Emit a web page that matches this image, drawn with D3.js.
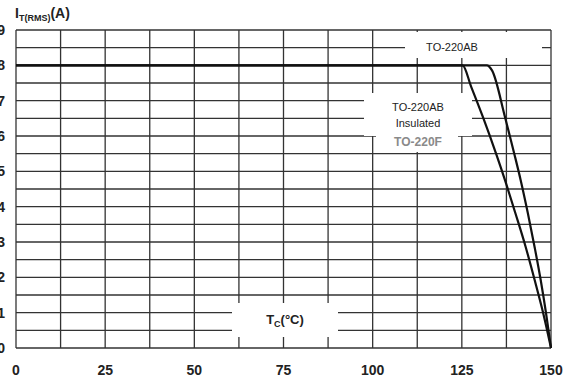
<!DOCTYPE html>
<html>
<head>
<meta charset="utf-8">
<script src="https://cdn.jsdelivr.net/npm/d3@7"></script>
<style>
  body { margin: 0; background: #fff; }
  svg { display: block; font-family: "Liberation Sans", Arial, sans-serif; }
</style>
</head>
<body>
<script>
// case temperature (°C) vs I_T(RMS) (A)
const abTemp = [0, 132, 133.5, 137.1, 139.7, 141.5, 143.5, 145.4, 147.1, 148.6, 150];
const abCurrent = [8, 8, 7.85, 6.54, 5.5, 4.75, 3.82, 2.86, 1.93, 0.99, 0];
const insTemp = [0, 125.2, 127.6, 130.9, 134.6, 137.1, 140, 142.9, 145.4, 147.8, 150];
const insCurrent = [8, 8, 7.4, 6.54, 5.5, 4.75, 3.82, 2.86, 1.93, 0.99, 0];
const xTicks = [0, 25, 50, 75, 100, 125, 150];
const yTicks = [0, 1, 2, 3, 4, 5, 6, 7, 8, 9];

const width = 572, height = 382;
const margin = { left: 16, right: 21, top: 30, bottom: 34 };

const svg = d3.select('body').append('svg')
    .attr('width', width)
    .attr('height', height);

const x = d3.scaleLinear().domain([0, 150]).range([margin.left, width - margin.right]);
const y = d3.scaleLinear().domain([0, 9]).range([height - margin.bottom, margin.top]);

const grid = svg.append('g').attr('stroke', '#333').attr('stroke-width', 1.3);

grid.selectAll('.v').data(d3.range(0, 150.1, 12.5)).enter()
    .append('line')
    .attr('x1', d => x(d)).attr('x2', d => x(d))
    .attr('y1', y(0)).attr('y2', y(9));

grid.selectAll('.h').data(d3.range(0, 9.01, 0.5)).enter()
    .append('line')
    .attr('x1', x(0)).attr('x2', x(150))
    .attr('y1', d => y(d)).attr('y2', d => y(d));

// curves
const line = d3.line().x(d => x(d[0])).y(d => y(d[1])).curve(d3.curveMonotoneX);
const series = [d3.zip(abTemp, abCurrent), d3.zip(insTemp, insCurrent)];
svg.selectAll('.curve').data(series).enter()
    .append('path')
    .attr('d', line)
    .attr('fill', 'none')
    .attr('stroke', '#111')
    .attr('stroke-width', 2.2)
    .attr('stroke-linejoin', 'round');

// white boxes behind labels
const boxes = [
    [405, 32, 137, 26],
    [364, 93, 108, 43],
    [376, 134, 82, 18],
    [232, 303, 106, 34]
];
svg.selectAll('.box').data(boxes).enter()
    .append('rect')
    .attr('x', d => d[0]).attr('y', d => d[1])
    .attr('width', d => d[2]).attr('height', d => d[3])
    .attr('fill', '#fff');

const label = (tx, ty, txt, opts = {}) => svg.append('text')
    .attr('x', tx).attr('y', ty)
    .attr('text-anchor', 'middle')
    .attr('dominant-baseline', 'central')
    .attr('font-size', opts.size || 11)
    .attr('font-weight', opts.weight || 'normal')
    .attr('fill', opts.fill || '#222')
    .text(txt);

label(452, 47, 'TO-220AB');
label(418, 107, 'TO-220AB');
label(418, 123, 'Insulated');
label(418, 142, 'TO-220F', { size: 12, weight: 'bold', fill: '#8a8a8a' });

// axis title on x
const xt = svg.append('text')
    .attr('x', 285).attr('y', 324)
    .attr('text-anchor', 'middle')
    .attr('font-size', 13).attr('font-weight', 'bold').attr('fill', '#222');
xt.append('tspan').text('T');
xt.append('tspan').attr('font-size', 9).attr('dy', 3).text('C');
xt.append('tspan').attr('dy', -3).text('(°C)');

// axis title on y
const yt = svg.append('text')
    .attr('x', 15).attr('y', 18)
    .attr('font-size', 14).attr('font-weight', 'bold').attr('fill', '#222');
yt.append('tspan').text('I');
yt.append('tspan').attr('font-size', 9).attr('dy', 3).text('T(RMS)');
yt.append('tspan').attr('dy', -3).text('(A)');

// tick labels (the reference crops the y labels at the left edge)
svg.selectAll('.xl').data(xTicks).enter()
    .append('text')
    .attr('x', d => x(d)).attr('y', 375)
    .attr('text-anchor', 'middle')
    .attr('font-size', 14).attr('font-weight', 'bold').attr('fill', '#222')
    .text(d => d);

svg.selectAll('.yl').data(yTicks).enter()
    .append('text')
    .attr('x', 5).attr('y', d => y(d) + 5)
    .attr('text-anchor', 'end')
    .attr('font-size', 14).attr('font-weight', 'bold').attr('fill', '#222')
    .text(d => d);
</script>
</body>
</html>
